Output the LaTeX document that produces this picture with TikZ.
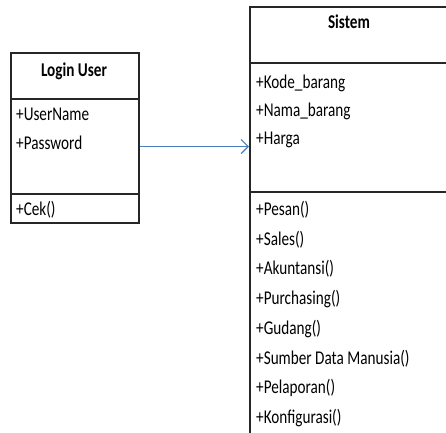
\documentclass[tikz,border=0pt]{standalone}
\usepackage{fontspec}
\setmainfont{Carlito}[FakeStretch=0.78]
\usetikzlibrary{arrows.meta}

\definecolor{linkblue}{HTML}{4A7EBB}

\begin{document}
\begin{tikzpicture}[x=1pt, y=-1pt,
    compart/.style={draw=black!85, line width=2pt, anchor=north west, inner sep=0pt},
    member/.style={anchor=base west, inner sep=0pt, font=\fontsize{19.5}{23}\selectfont},
    title/.style={anchor=base, inner sep=0pt, font=\fontsize{19.5}{23}\selectfont\bfseries}]
    \useasboundingbox[fill=white] (0,0) rectangle (446,432);

    % Login User class
    \node[compart, minimum width=128, minimum height=46] (LUhead) at (10,52) {};
    \node[compart, minimum width=128, minimum height=95] (LUattr) at (10,98) {};
    \node[compart, minimum width=128, minimum height=29] (LUops) at (10,193) {};
    \node[title] (LUname) at (74,76) {Login User};
    \node[member] (LUa1) at (16,120) {+UserName};
    \node[member] (LUa2) at (16,149) {+Password};
    \node[member] (LUo1) at (16,215) {+Cek()};

    % Sistem class
    \node[compart, minimum width=200, minimum height=56] (Shead) at (249,6) {};
    \node[compart, minimum width=200, minimum height=129] (Sattr) at (249,62) {};
    \node[compart, minimum width=200, minimum height=260] (Sops) at (249,191) {};
    \node[title] (Sname) at (349,28) {Sistem};
    \node[member] (Sa1) at (256,88) {+Kode\_barang};
    \node[member] (Sa2) at (256,116) {+Nama\_barang};
    \node[member] (Sa3) at (256,144) {+Harga};
    \foreach \op [count=\i from 0] in {Pesan(), Sales(), Akuntansi(), Purchasing(), Gudang(), Sumber Data Manusia(), Pelaporan(), Konfigurasi()}
        \node[member] (Sop\i) at (256,215.5+29.7*\i) {+\op};

    % Draw association
    \draw[linkblue, line width=1.2pt, -{Straight Barb[length=7pt, width=14pt]}] (LUattr.east) -- (LUattr.east -| Sattr.west);
\end{tikzpicture}
\end{document}
